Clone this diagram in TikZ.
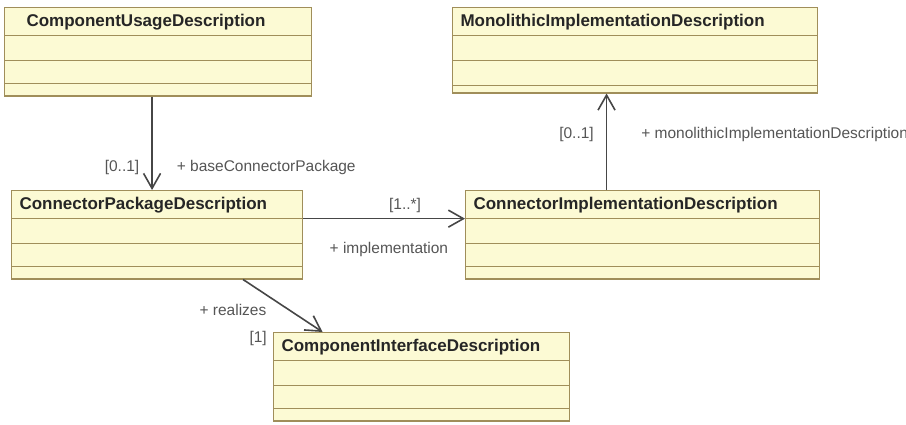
\documentclass[tikz,border=0pt]{standalone}
\usepackage{fontspec}
\setmainfont{Liberation Sans}
\usetikzlibrary{shapes.multipart, arrows.meta, positioning}
\definecolor{class_fill}{RGB}{252, 250, 212}
\definecolor{class_line}{RGB}{160, 142, 90}
\definecolor{assoc_line}{RGB}{70, 70, 70}
\definecolor{role_text}{RGB}{85, 85, 85}

% empty compartments of a class box
\newcommand{\emptyparts}{\nodepart{two}\rule{0pt}{24pt}\nodepart{three}\rule{0pt}{22pt}\nodepart{four}\rule{0pt}{11pt}}

\begin{document}
\begin{tikzpicture}[
    x=1pt, y=-1pt,
    % Node styles
    umlclass/.style={
        rectangle split,
        rectangle split parts=4,
        draw=class_line,
        fill=class_fill,
        line width=1.1pt,
        text=black!85,
        text width=#1,
        inner xsep=8pt,
        inner ysep=0pt,
        align=left,
        anchor=north west,
        font=\fontsize{17}{19}\selectfont\bfseries
    },
    role/.style={
        text=role_text,
        inner sep=2pt,
        font=\fontsize{15.5}{17}\selectfont
    },
    assoc/.style={
        -{Straight Barb[length=15pt, width=17pt]},
        line width=1.6pt,
        draw=assoc_line
    }
]

\useasboundingbox (0,0) rectangle (906,424);

% Position nodes
\node[umlclass=263pt, inner xsep=22pt] (usage) at (4,7)
    {\rule[-9pt]{0pt}{27pt}ComponentUsageDescription\emptyparts};

\node[umlclass=349pt] (mono) at (452,7)
    {\rule[-9pt]{0pt}{27pt}MonolithicImplementationDescription\nodepart{two}\rule{0pt}{24pt}\nodepart{three}\rule{0pt}{24pt}\nodepart{four}\rule{0pt}{6pt}};

\node[umlclass=275pt] (package) at (11,190)
    {\rule[-9pt]{0pt}{27pt}ConnectorPackageDescription\emptyparts};

\node[umlclass=338pt] (impl) at (465,190)
    {\rule[-9pt]{0pt}{27pt}ConnectorImplementationDescription\emptyparts};

\node[umlclass=280pt] (iface) at (273,332)
    {\rule[-9pt]{0pt}{27pt}ComponentInterfaceDescription\emptyparts};

% draw arrows
\draw[assoc] ([xshift=-6pt]usage.south) -- ([xshift=-6pt]usage.south |- package.north)
    node[role, pos=0.76, left=10pt] {[0..1]}
    node[role, pos=0.76, right=22pt] {+ baseConnectorPackage};

\draw[assoc] (package.one split east) -- (impl.one split west)
    node[role, pos=0.63, above=3pt] {[1..*]}
    node[role, pos=0.53, below=21pt] {+ implementation};

\draw[assoc] ([xshift=-36pt]impl.north) -- ([xshift=-36pt]impl.north |- mono.south)
    node[role, pos=0.58, left=10pt] {[0..1]}
    node[role, pos=0.58, right=32pt] {+ monolithicImplementationDescription};

\draw[assoc] ([xshift=86pt]package.south) -- ([xshift=-99pt]iface.north)
    node[role, pos=0.58, left=20pt] {+ realizes}
    node[role, at end, anchor=east, xshift=-53pt, yshift=-6pt] {[1]};

\end{tikzpicture}
\end{document}
